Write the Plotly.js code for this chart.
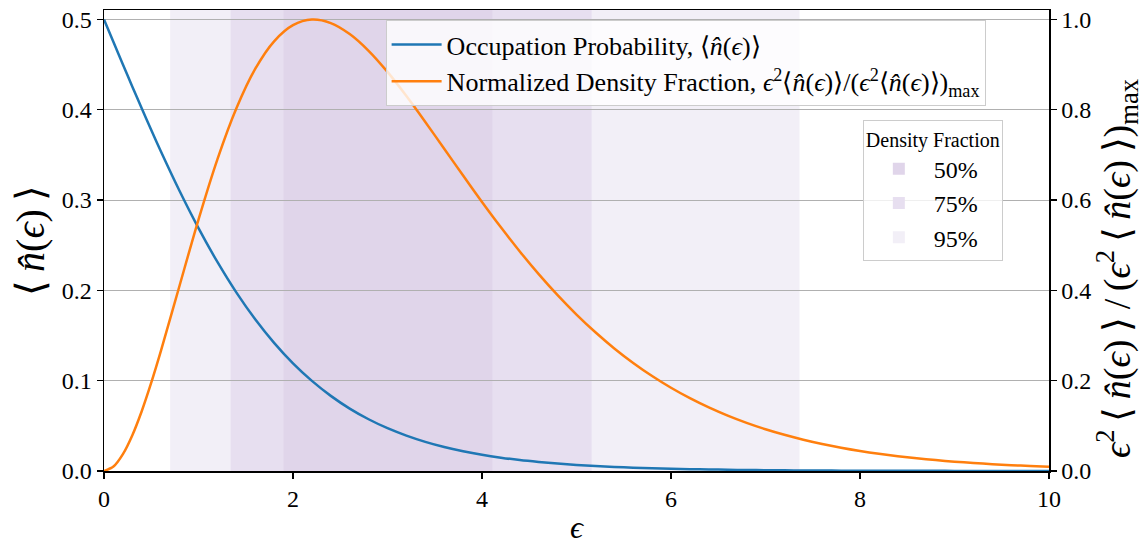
<!DOCTYPE html>
<html>
<head>
<meta charset="utf-8">
<script src="https://cdn.plot.ly/plotly-3.0.1.min.js"></script>
<style>html,body{margin:0;padding:0;background:#fff;}#chart{width:1144px;height:545px;}</style>
</head>
<body>
<div id="chart"></div>
<script>
// energy grid (epsilon)
const eps = [0,0.1,0.2,0.3,0.4,0.5,0.6,0.8,1.0,1.2,1.4,1.6,1.8,2.0,2.2,2.4,2.6,2.8,3.0,3.2,3.4,3.6,3.8,4.0,4.2,4.4,4.6,4.8,5.0,5.2,5.4,5.6,5.8,6.0,6.2,6.4,6.6,6.8,7.0,7.2,7.4,7.6,7.8,8.0,8.2,8.4,8.6,8.8,9.0,9.2,9.4,9.6,9.8,10.0];
// occupation probability <n(eps)>
const occupation = [0.5,0.4750,0.4502,0.4256,0.4013,0.3775,0.3543,0.3100,0.2689,0.2315,0.1978,0.1680,0.1419,0.1192,0.0998,0.0832,0.0691,0.0573,0.0474,0.0392,0.0323,0.0266,0.0219,0.0180,0.0148,0.0121,0.0100,0.0082,0.0067,0.0055,0.0045,0.0037,0.0030,0.0025,0.0020,0.0017,0.0014,0.0011,0.0009,0.0007,0.0006,0.0005,0.0004,0.0003,0.0003,0.0002,0.0002,0.0002,0.0001,0.0001,0.0001,0.0001,0.0001,0.0000];
// normalized density fraction
const density = [0,0.0098,0.0373,0.0793,0.1330,0.1955,0.2642,0.4109,0.5569,0.6903,0.8029,0.8905,0.9517,0.9874,0.9998,0.9921,0.9678,0.9307,0.8839,0.8305,0.7731,0.7138,0.6543,0.5959,0.5397,0.4862,0.4361,0.3895,0.3465,0.3072,0.2715,0.2393,0.2103,0.1843,0.1612,0.1407,0.1225,0.1065,0.0924,0.0801,0.0693,0.0598,0.0516,0.0444,0.0382,0.0329,0.0282,0.0242,0.0207,0.0177,0.0151,0.0129,0.0110,0.0094];
// density-fraction bands
const bandLabels = ["50%","75%","95%"];
const bandLow  = [1.90, 1.34, 0.70];
const bandHigh = [4.11, 5.16, 7.36];
const bandColors = ["#e0d5ea","#e7dff0","#f2eff7"];

const FONT = '"Liberation Serif", serif';
const T = "\u2009"; // thin space
const NHAT = "⟨<i>n̂</i>(<i>ϵ</i>)⟩";
const NHAT_T = "⟨" + T + "<i>n̂</i>(<i>ϵ</i>)" + T + "⟩";

const traces = [
  {x: eps, y: occupation, type: 'scatter', mode: 'lines', yaxis: 'y',
   line: {color: '#1f77b4', width: 2.5, shape: 'spline', smoothing: 0.8},
   name: 'Occupation Probability, ' + NHAT, legend: 'legend'},
  {x: eps, y: density, type: 'scatter', mode: 'lines', yaxis: 'y2',
   line: {color: '#ff7f0e', width: 2.5, shape: 'spline', smoothing: 0.8},
   name: 'Normalized Density Fraction, <i>ϵ</i><sup>2</sup>' + NHAT + '/(<i>ϵ</i><sup>2</sup>' + NHAT + ')<sub>max</sub>', legend: 'legend'}
];

// bands: draw widest first
const shapes = [];
for (let i = bandLabels.length - 1; i >= 0; i--) {
  shapes.push({type: 'rect', xref: 'x', yref: 'paper', x0: bandLow[i], x1: bandHigh[i], y0: 0, y1: 1,
    fillcolor: bandColors[i], line: {width: 0}, layer: 'below',
    showlegend: true, legend: 'legend2', name: bandLabels[i], legendrank: i + 1});
}

const axisCommon = {
  showline: true, linecolor: '#000', linewidth: 1.5, ticks: 'outside', ticklen: 6, tickwidth: 1.2,
  tickcolor: '#000', tickfont: {family: FONT, size: 24, color: '#000'}, zeroline: false
};

const PAD = "\u2800".repeat(2);
const rightTitle = '<i>ϵ</i><sup>2</sup>' + T + NHAT_T + T + '/' + T + '(<i>ϵ</i><sup>2</sup>' + T + NHAT_T + ')<sub>max</sub>' + PAD;

const layout = {
  width: 1144, height: 545,
  margin: {l: 104, r: 95, t: 10, b: 73.5},
  paper_bgcolor: '#fff', plot_bgcolor: 'rgba(0,0,0,0)',
  font: {family: FONT, color: '#000'},
  xaxis: Object.assign({}, axisCommon, {range: [0, 10], tickvals: [0,2,4,6,8,10], showgrid: false, mirror: true,
    title: {text: '<i>ϵ</i>', font: {family: FONT, size: 32}, standoff: 10}}),
  yaxis: Object.assign({}, axisCommon, {range: [0, 0.5105], tickvals: [0,0.1,0.2,0.3,0.4,0.5], ticktext: ['0.0','0.1','0.2','0.3','0.4','0.5'], showgrid: false,
    title: {text: NHAT_T, font: {family: FONT, size: 40}, standoff: 4}}),
  yaxis2: Object.assign({}, axisCommon, {range: [0, 1.021], overlaying: 'y', side: 'right', tickvals: [0,0.2,0.4,0.6,0.8,1.0], ticktext: ['0.0','0.2','0.4','0.6','0.8','1.0'],
    showgrid: true, gridcolor: '#b0b0b0', gridwidth: 1,
    title: {text: rightTitle, font: {family: FONT, size: 38}, standoff: 2}}),
  shapes: shapes,
  legend: {x: 0.298, y: 0.978, xanchor: 'left', yanchor: 'top', bgcolor: 'rgba(255,255,255,0.8)', bordercolor: '#cccccc', borderwidth: 1,
    font: {family: FONT, size: 26, color: '#000'}, tracegroupgap: 6, itemwidth: 50},
  legend2: {x: 0.803, y: 0.762, xanchor: 'left', yanchor: 'top', bgcolor: 'rgba(255,255,255,0.8)', bordercolor: '#cccccc', borderwidth: 1,
    font: {family: FONT, size: 24, color: '#000'}, itemwidth: 60,
    title: {text: 'Density Fraction', font: {family: FONT, size: 20, color: '#000'}, side: 'top'}}
};

Plotly.newPlot('chart', traces, layout, {displayModeBar: false, staticPlot: true});
</script>
</body>
</html>
